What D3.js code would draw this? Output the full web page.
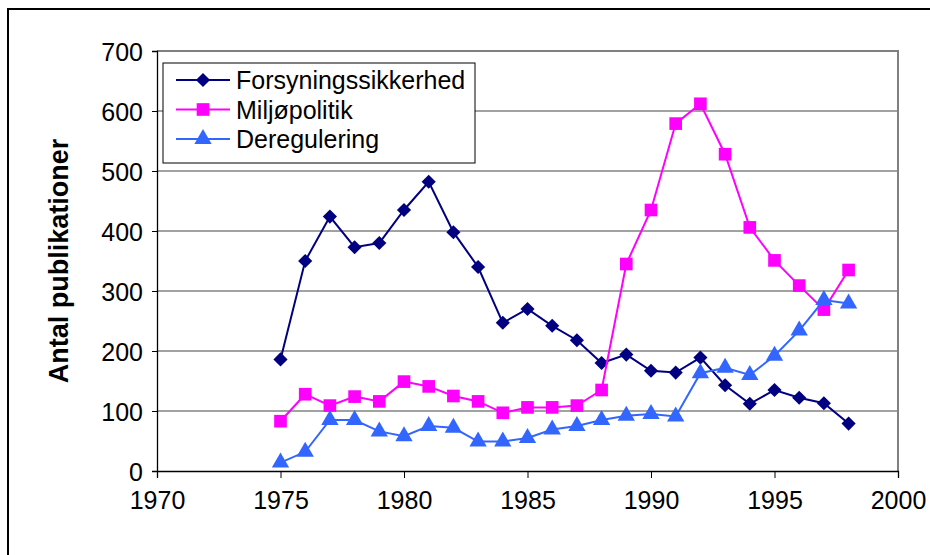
<!DOCTYPE html>
<head>
    <meta charset="utf-8">
    <script src="https://d3js.org/d3.v7.min.js"></script>
    <style>
        body { margin: 0; background: #fff; }
        text { font-family: Arial, "Liberation Sans", sans-serif; fill: #000; }
    </style>
</head>
<body>
<svg id="svg" width="930" height="555"></svg>
<script>
    // data
    var years = d3.range(1975, 1999);
    var forsyning = [186, 350, 424, 373, 380, 435, 482, 398, 340, 247, 270, 242, 218, 180, 194,
                     167, 164, 189, 143, 112, 135, 122, 113, 79];
    var miljo = [83, 128, 109, 124, 116, 149, 141, 125, 116, 97, 106, 106, 109, 135, 345,
                 435, 579, 612, 528, 406, 351, 309, 269, 335];
    var dereg = [14, 32, 85, 85, 66, 58, 75, 72, 49, 49, 55, 69, 75, 85, 92,
                 95, 91, 163, 172, 160, 192, 234, 285, 279];
    var yTicks = [0, 100, 200, 300, 400, 500, 600, 700];
    var xTicks = [1970, 1975, 1980, 1985, 1990, 1995, 2000];

    var series = [
        { name: "Forsyningssikkerhed", values: forsyning, color: "#000080", symbol: d3.symbolSquare, size: 100, rot: 45 },
        { name: "Miljøpolitik", values: miljo, color: "#ff00ff", symbol: d3.symbolSquare, size: 160, rot: 0 },
        { name: "Deregulering", values: dereg, color: "#3366ff", symbol: d3.symbolTriangle, size: 130, rot: 0 }
    ];

    var svg = d3.select("#svg");
    var pLeft = 157, pRight = 898, pTop = 51, pBottom = 471;

    var x = d3.scaleLinear().domain([1970, 2000]).range([pLeft, pRight]);
    var y = d3.scaleLinear().domain([0, 700]).range([pBottom, pTop]);

    // outer chart frame
    svg.append("rect").attr("x", 8).attr("y", 9).attr("width", 940).attr("height", 560)
        .attr("fill", "none").attr("stroke", "#000").attr("stroke-width", 2);

    // gridlines
    svg.append("g").selectAll("line").data(yTicks.slice(1, -1)).enter().append("line")
        .attr("x1", pLeft).attr("x2", pRight)
        .attr("y1", function (d) { return y(d); }).attr("y2", function (d) { return y(d); })
        .attr("stroke", "#444").attr("stroke-width", 1);

    // plot area border (grey top/right)
    svg.append("path")
        .attr("d", "M" + pLeft + "," + pTop + "H" + pRight + "V" + pBottom)
        .attr("fill", "none").attr("stroke", "#808080").attr("stroke-width", 2);

    // axes
    var yAxis = d3.axisLeft(y).tickValues(yTicks).tickSize(5).tickPadding(9);
    var gy = svg.append("g").attr("transform", "translate(" + pLeft + ",0)").call(yAxis);
    var xAxis = d3.axisBottom(x).tickValues(xTicks).tickSize(7).tickPadding(13).tickFormat(d3.format("d"));
    var gx = svg.append("g").attr("transform", "translate(0," + pBottom + ")").call(xAxis);
    [gy, gx].forEach(function (g) {
        g.selectAll("path.domain").attr("stroke", "#000").attr("stroke-width", 1.3);
        g.selectAll(".tick line").attr("stroke", "#000");
        g.selectAll("text").style("font-family", "Arial, 'Liberation Sans', sans-serif");
    });
    gy.selectAll("text").attr("dy", "0.36em").style("font-size", "25px");
    gx.selectAll("text").style("font-size", "25px");

    // y title
    svg.append("text")
        .attr("transform", "translate(68," + ((pTop + pBottom) / 2) + ") rotate(-90)")
        .attr("text-anchor", "middle")
        .style("font-size", "27px").style("font-weight", "bold")
        .text("Antal publikationer");

    var line = d3.line()
        .x(function (d, i) { return x(years[i]); })
        .y(function (d) { return y(d); });

    series.forEach(function (s) {
        var g = svg.append("g");
        g.append("path").datum(s.values).attr("d", line)
            .attr("fill", "none").attr("stroke", s.color).attr("stroke-width", 2);
        g.selectAll("path.m").data(s.values).enter().append("path").attr("class", "m")
            .attr("d", d3.symbol().type(s.symbol).size(s.size))
            .attr("transform", function (d, i) { return "translate(" + x(years[i]) + "," + y(d) + ") rotate(" + s.rot + ")"; })
            .attr("fill", s.color);
    });

    // legend
    var lg = svg.append("g");
    lg.append("rect").attr("x", 163).attr("y", 63).attr("width", 312).attr("height", 100)
        .attr("fill", "#fff").attr("stroke", "#000").attr("stroke-width", 1);
    series.forEach(function (s, i) {
        var ly = 80 + i * 29.5;
        lg.append("line").attr("x1", 176).attr("x2", 230).attr("y1", ly).attr("y2", ly)
            .attr("stroke", s.color).attr("stroke-width", 2);
        lg.append("path").attr("d", d3.symbol().type(s.symbol).size(s.size))
            .attr("transform", "translate(203," + ly + ") rotate(" + s.rot + ")").attr("fill", s.color);
        lg.append("text").attr("x", 236).attr("y", ly).attr("dy", "0.36em")
            .style("font-size", "25px").text(s.name);
    });
</script>
</body>
